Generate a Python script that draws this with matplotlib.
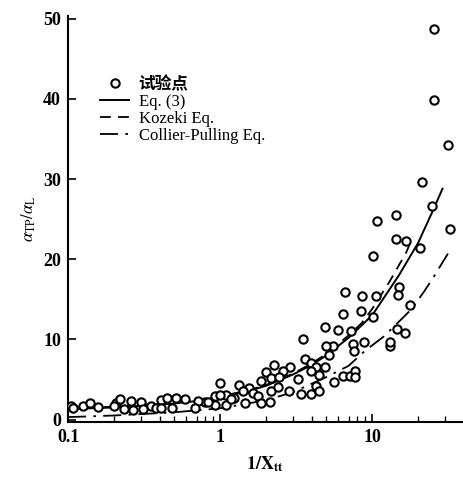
import numpy as np
import matplotlib
matplotlib.use("Agg")
import matplotlib.pyplot as plt
from matplotlib.ticker import FixedLocator, NullFormatter

plt.rcParams['font.family'] = ['Liberation Serif', 'Noto Sans CJK SC']
plt.rcParams['mathtext.fontset'] = 'stix'

# measured points: 1/Xtt vs aTP/aL
x_pts = [25.5, 25.5, 31.5, 21.2, 24.7, 32.7, 16.7, 20.5, 10.7, 14.4, 14.4, 10.1,
         15.1, 14.8, 6.64, 8.6, 10.6, 6.4, 8.38, 10.1, 17.6, 6.0, 7.28, 14.6, 16.4,
         8.9, 7.46, 13.0, 13.0, 7.6, 5.5, 3.53, 4.86, 4.98, 5.2, 3.6, 3.97, 4.28,
         4.86, 4.5, 2.25, 2.86, 2.58, 2.0, 1.86, 2.17, 2.45, 3.24, 3.97, 4.28, 5.65,
         6.4, 7.1, 7.65, 7.65, 2.82, 3.41, 3.97, 4.5, 1.0, 1.34, 1.56, 1.41, 1.64,
         1.77, 2.17, 2.4, 0.79, 0.92, 1.1, 1.24, 1.1, 1.45, 1.86, 2.14, 0.92,
         0.105, 0.125, 0.14, 0.157, 0.207, 0.221, 0.26, 0.30, 0.235, 0.267, 0.35,
         0.41, 0.45, 0.51, 0.59, 0.71, 0.83, 0.31, 0.38, 0.41, 0.48, 0.68, 0.2,
         1.0, 1.18, 0.108]
y_pts = [48.7, 39.8, 34.3, 29.6, 26.6, 23.8, 22.3, 21.4, 24.8, 25.5, 22.5, 20.4,
         16.5, 15.5, 15.9, 15.4, 15.4, 13.2, 13.5, 12.8, 14.3, 11.2, 11.1, 11.3, 10.8,
         9.7, 9.45, 9.2, 9.7, 8.5, 9.2, 10.0, 11.5, 9.2, 8.1, 7.5, 7.1, 6.55,
         6.6, 5.6, 6.8, 6.55, 6.0, 5.9, 4.8, 5.2, 5.3, 5.1, 6.0, 4.15, 4.65,
         5.4, 5.4, 6.1, 5.35, 3.5, 3.2, 3.2, 3.6, 4.6, 4.35, 3.9, 3.5, 3.3,
         2.9, 3.5, 4.1, 2.2, 2.9, 3.1, 2.7, 1.8, 2.1, 2.1, 2.2, 1.8,
         1.74, 1.65, 2.1, 1.6, 2.1, 2.6, 2.3, 2.15, 1.3, 1.15, 1.65,
         2.4, 2.7, 2.7, 2.5, 2.3, 2.15, 1.25, 1.45, 1.45, 1.45, 1.45, 1.65,
         3.0, 2.6, 1.45]

# Eq. (3)
x_eq3 = [0.1, 0.2, 0.3, 0.5, 0.7, 1, 1.5, 2, 3, 4, 5, 7, 10, 15, 20, 25, 29]
y_eq3 = [1.3, 1.5, 1.7, 2.0, 2.3, 2.8, 3.5, 4.2, 5.6, 6.8, 8.0, 10.2, 13.0, 18.0,
         22.0, 26.0, 28.8]

# Kozeki
x_koz = [0.1, 0.2, 0.3, 0.5, 0.7, 1, 1.5, 2, 3, 4, 5, 7, 8.5, 10, 13, 16.7, 18.5]
y_koz = [1.4, 1.6, 1.8, 2.1, 2.4, 2.9, 3.6, 4.3, 5.7, 7.0, 8.2, 10.5, 12.0, 13.8,
         17.2, 20.8, 22.8]

# Collier-Pulling
x_cp = [0.1, 0.2, 0.5, 1, 2, 3, 5, 7, 9, 12, 18, 22, 25, 31.5]
y_cp = [0.3, 0.5, 0.9, 1.4, 2.4, 3.4, 5.3, 6.7, 8.6, 10.4, 13.7, 16.0, 17.6, 20.7]

fig = plt.figure(figsize=(4.63, 4.80), dpi=100)
ax = fig.add_axes([0.147, 0.121, 0.851, 0.845])

ax.plot(x_pts, y_pts, 'o', mfc='white', mec='black', ms=6, mew=1.5,
        label='试验点', zorder=3)
ax.plot(x_eq3, y_eq3, '-', color='black', lw=1.4, label='Eq. (3)')
ax.plot(x_koz, y_koz, color='black', lw=1.3, dashes=(6, 4), label='Kozeki Eq.')
ax.plot(x_cp, y_cp, color='black', lw=1.3, dashes=(10, 4, 1.5, 4),
        label='Collier-Pulling Eq.')

ax.set_xscale('log')
ax.set_xlim(0.1, 39)
ax.set_ylim(-0.3, 50.3)

ax.spines['top'].set_visible(False)
ax.spines['right'].set_visible(False)
ax.spines['left'].set_linewidth(1.5)
ax.spines['bottom'].set_linewidth(1.5)

ax.xaxis.set_major_locator(FixedLocator([0.1, 1, 10]))
ax.set_xticklabels(['0.1', '1', '10'])
ax.xaxis.set_minor_locator(FixedLocator(
    [k * 10.0 ** e for e in (-1, 0, 1) for k in range(2, 10) if k * 10.0 ** e < 39]))
ax.xaxis.set_minor_formatter(NullFormatter())
ax.set_yticks([0, 10, 20, 30, 40, 50])

ax.tick_params(axis='both', which='major', direction='in', length=6, width=1.2,
               labelsize=13, pad=5)
ax.tick_params(axis='x', which='minor', direction='in', length=4, width=1.0)
for lab in ax.get_xticklabels() + ax.get_yticklabels():
    lab.set_fontweight('bold')

ax.set_xlabel(r'$\mathbf{1/}\mathbf{X}_{\mathbf{tt}}$', fontsize=13, labelpad=6)
ax.set_ylabel(r'$\alpha_{\mathrm{TP}}/\alpha_{\mathrm{L}}$', fontsize=12, labelpad=4)

leg = ax.legend(loc='upper left', bbox_to_anchor=(0.065, 0.868), frameon=False,
                fontsize=12, handlelength=1.7, handletextpad=0.6,
                labelspacing=0.05, borderaxespad=0)
leg.get_texts()[0].set_fontweight('bold')

fig.savefig('out.png', dpi=100)
